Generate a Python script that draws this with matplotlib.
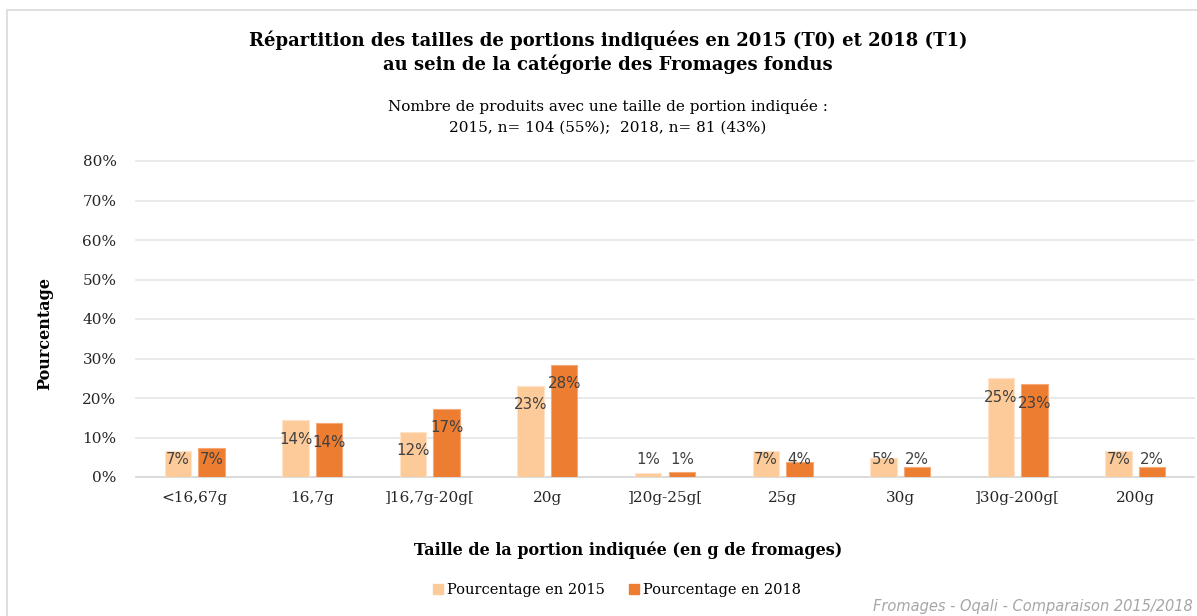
import matplotlib
matplotlib.use("Agg")
import matplotlib.pyplot as plt
import numpy as np
from matplotlib.patches import Rectangle, Patch

categories = ["<16,67g", "16,7g", "]16,7g-20g[", "20g", "]20g-25g[", "25g", "30g", "]30g-200g[", "200g"]
pct_2015 = [6.7, 14.4, 11.5, 23.1, 1.0, 6.7, 4.8, 25.0, 6.7]
pct_2018 = [7.4, 13.6, 17.3, 28.4, 1.2, 3.7, 2.5, 23.5, 2.5]
labels_2015 = ["7%", "14%", "12%", "23%", "1%", "7%", "5%", "25%", "7%"]
labels_2018 = ["7%", "14%", "17%", "28%", "1%", "4%", "2%", "23%", "2%"]
series_names = ["Pourcentage en 2015", "Pourcentage en 2018"]
yticks = [0, 10, 20, 30, 40, 50, 60, 70, 80]

c2015 = "#FDCB99"
c2018 = "#ED7D31"
serif = ["DejaVu Serif"]
sans_lbl = ["Liberation Sans Narrow", "DejaVu Sans"]

fig = plt.figure(figsize=(11.97, 6.16), dpi=100)
ax = fig.add_axes([136/1197, 1-477/616, (1194-136)/1197, (477-161)/616])

x = np.arange(len(categories))
w = 0.225
gap = 0.06
off = (w + gap) / 2
ax.bar(x - off, pct_2015, w, color=c2015, edgecolor="#FFE3C8", linewidth=0.8, zorder=3)
ax.bar(x + off, pct_2018, w, color=c2018, edgecolor="#F5A878", linewidth=0.8, zorder=3)

for xs, vals, labs in [(x - off, pct_2015, labels_2015), (x + off, pct_2018, labels_2018)]:
    for xi, v, lab in zip(xs, vals, labs):
        ly = max(v - 4.8, 4.5)
        ax.text(xi, ly, lab, ha="center", va="center", fontsize=10.8,
                color="#404040", family=sans_lbl, zorder=4)

ax.set_xlim(-0.5, len(categories) - 0.5)
ax.set_ylim(0, 80)
ax.set_yticks(yticks)
ax.set_yticklabels([f"{t}%" for t in yticks], family=serif, fontsize=11, color="#262626")
ax.set_xticks(x)
ax.set_xticklabels(categories, family=serif, fontsize=11, color="#262626")
ax.tick_params(axis="both", length=0)
ax.tick_params(axis="y", pad=14)
ax.tick_params(axis="x", pad=10)
ax.grid(axis="y", color="#E5E5E5", linewidth=1.2, zorder=0)
for gl in ax.get_ygridlines():
    gl.set_clip_on(False)
for s in ["top", "right", "left"]:
    ax.spines[s].set_visible(False)
ax.spines["bottom"].set_color("#D9D9D9")
ax.spines["bottom"].set_linewidth(1.2)

fig.text(608/1197, 1-40/616, "Répartition des tailles de portions indiquées en 2015 (T0) et 2018 (T1)",
         ha="center", va="center", fontsize=13, fontweight="bold", family=serif)
fig.text(608/1197, 1-64/616, "au sein de la catégorie des Fromages fondus",
         ha="center", va="center", fontsize=13, fontweight="bold", family=serif)
fig.text(608/1197, 1-106/616, "Nombre de produits avec une taille de portion indiquée :",
         ha="center", va="center", fontsize=11, family=serif)
fig.text(608/1197, 1-128/616, "2015, n= 104 (55%);  2018, n= 81 (43%)",
         ha="center", va="center", fontsize=11, family=serif)

fig.text(45/1197, 1-333/616, "Pourcentage", rotation=90, ha="center", va="center",
         fontsize=11.5, fontweight="bold", family=serif)
fig.text(628/1197, 1-550/616, "Taille de la portion indiquée (en g de fromages)",
         ha="center", va="center", fontsize=11.5, fontweight="bold", family=serif)

handles = [Patch(color=c2015), Patch(color=c2018)]
fig.legend(handles, series_names, loc="center", bbox_to_anchor=(617/1197, 1-590/616),
           ncol=2, frameon=False, handlelength=0.7, handleheight=0.7, handletextpad=0.3,
           columnspacing=1.6, prop={"family": serif, "size": 10.5})

fig.text(1193/1197, 1-607/616, "Fromages - Oqali - Comparaison 2015/2018", ha="right", va="center",
         fontsize=10.5, style="italic", color="#A6A6A6", family=sans_lbl)

fig.patches.append(Rectangle((7/1197, -0.1), 1.2, 1 - 10/616 + 0.1, transform=fig.transFigure,
                             fill=False, edgecolor="#D9D9D9", linewidth=1.2))

fig.savefig("out.png", dpi=100)
